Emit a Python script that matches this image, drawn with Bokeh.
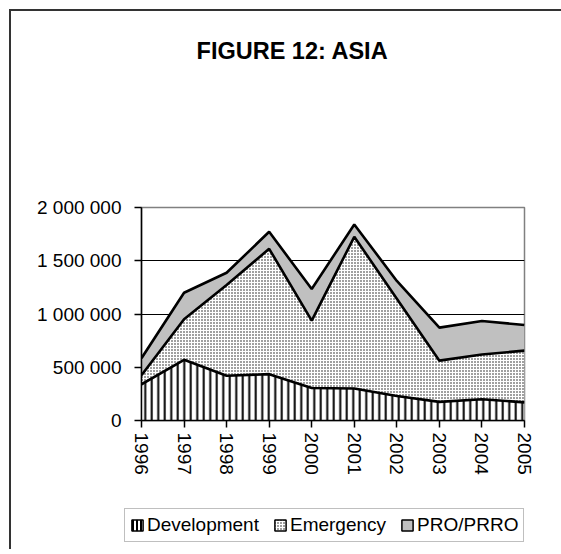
import numpy as np
from bokeh.plotting import figure
from bokeh.layouts import column
from bokeh.models import (FixedTicker, Legend, LegendItem, ColumnDataSource, Range1d, Label)
from bokeh.embed import file_html
from bokeh.resources import INLINE

years = [1996, 1997, 1998, 1999, 2000, 2001, 2002, 2003, 2004, 2005]
development = [340000, 570000, 420000, 435000, 305000, 300000, 230000, 175000, 200000, 170000]
emergency = [85000, 380000, 852000, 1177000, 632000, 1425000, 914000, 387000, 419000, 486000]
pro_prro = [160000, 250000, 115000, 160000, 297000, 116000, 166000, 310000, 315000, 241000]

y_ticks = [0, 500000, 1000000, 1500000, 2000000]
y_tick_labels = ["0", "500 000", "1 000 000", "1 500 000", "2 000 000"]
x_tick_labels = [str(y) for y in years]
title_text = "FIGURE 12: ASIA"
series_names = ["Development", "Emergency", "PRO/PRRO"]

FONT = "Liberation Sans"
LABEL_SIZE = "19px"
W = 550

DEV_STYLE = dict(fill_color="white", hatch_pattern="vertical_line", hatch_color="black")
EMG_STYLE = dict(fill_color="white", hatch_pattern="dot", hatch_scale=3, hatch_weight=1.8,
                 hatch_color="#111111")
PRO_STYLE = dict(fill_color="#c0c0c0")

dev = np.array(development, dtype=float)
emg = dev + np.array(emergency, dtype=float)
tot = emg + np.array(pro_prro, dtype=float)

src = ColumnDataSource(dict(x=years, zero=[0] * len(years), dev=dev, emg=emg, tot=tot))


def no_frame_align(f):
    if "frame_align" in f.properties():
        f.frame_align = False


def blank_fig(h):
    f = figure(width=W, height=h, output_backend="svg", toolbar_location=None,
               x_axis_type=None, y_axis_type=None,
               x_range=Range1d(0, 1), y_range=Range1d(0, 1),
               min_border_left=0, min_border_right=0, min_border_top=0, min_border_bottom=0)
    f.xgrid.visible = False
    f.ygrid.visible = False
    f.outline_line_color = None
    f.background_fill_color = "white"
    f.border_fill_color = "white"
    no_frame_align(f)
    return f


# ---- title strip ----
ft = blank_fig(160)
ft.add_layout(Label(x=281, y=121, x_units="screen", y_units="screen", text=title_text,
                    text_align="center", text_baseline="alphabetic",
                    text_font=FONT, text_font_size="23.5px", text_font_style="bold",
                    text_color="black"))

# ---- main chart ----
p = figure(width=W, height=306, output_backend="svg", toolbar_location=None,
           x_range=Range1d(1996, 2005), y_range=Range1d(0, 2000000),
           min_border_left=130, min_border_right=37, min_border_top=36, min_border_bottom=56)
no_frame_align(p)
p.background_fill_color = "white"
p.border_fill_color = "white"
p.outline_line_color = "#808080"
p.outline_line_width = 1.5

p.varea(x="x", y1="tot", y2="emg", source=src, **PRO_STYLE)
p.varea(x="x", y1="emg", y2="dev", source=src, **EMG_STYLE)
p.varea(x="x", y1="dev", y2="zero", source=src, hatch_scale=6.5, hatch_weight=2, **DEV_STYLE)
p.line(x="x", y="dev", source=src, line_color="black", line_width=2.6)
p.line(x="x", y="emg", source=src, line_color="black", line_width=2.6)
p.line(x="x", y="tot", source=src, line_color="black", line_width=2.6)

p.xgrid.visible = False
p.ygrid.ticker = FixedTicker(ticks=y_ticks[1:-1])
p.ygrid.grid_line_color = "black"
p.ygrid.grid_line_width = 1

p.yaxis.ticker = FixedTicker(ticks=y_ticks)
p.yaxis.major_label_overrides = {t: l for t, l in zip(y_ticks, y_tick_labels)}
p.xaxis.ticker = FixedTicker(ticks=years)
p.xaxis.major_label_overrides = {y: l for y, l in zip(years, x_tick_labels)}
p.xaxis.major_label_orientation = -np.pi / 2
for ax in (p.xaxis[0], p.yaxis[0]):
    ax.axis_line_color = "black"
    ax.axis_line_width = 1.5
    ax.major_tick_line_color = "black"
    ax.major_tick_line_width = 1.5
    ax.major_tick_out = 7
    ax.major_tick_in = 0
    ax.minor_tick_line_color = None
    ax.major_label_text_font = FONT
    ax.major_label_text_font_size = LABEL_SIZE
    ax.major_label_text_color = "black"
p.yaxis.major_label_standoff = 13
p.xaxis.major_label_standoff = 5

# ---- legend strip ----
fl = blank_fig(72)
nan_src = dict(left=[np.nan], right=[np.nan], top=[np.nan], bottom=[np.nan])
r1 = fl.quad(source=ColumnDataSource(nan_src), left="left", right="right", top="top", bottom="bottom",
             line_color="black", line_width=1.5, hatch_scale=4, hatch_weight=2, **DEV_STYLE)
r2 = fl.quad(source=ColumnDataSource(nan_src), left="left", right="right", top="top", bottom="bottom",
             line_color="black", line_width=1.5, **EMG_STYLE)
r3 = fl.quad(source=ColumnDataSource(nan_src), left="left", right="right", top="top", bottom="bottom",
             line_color="black", line_width=1.5, **PRO_STYLE)
legend = Legend(items=[LegendItem(label=series_names[0], renderers=[r1]),
                       LegendItem(label=series_names[1], renderers=[r2]),
                       LegendItem(label=series_names[2], renderers=[r3])],
                orientation="horizontal", location=(113, 7),
                glyph_width=14, glyph_height=14, label_standoff=3, spacing=14,
                padding=5, margin=0,
                label_text_font=FONT, label_text_font_size=LABEL_SIZE, label_text_color="black",
                border_line_color="#808080", border_line_width=1.5,
                background_fill_color="white", background_fill_alpha=1)
fl.add_layout(legend, "center")

layout = column(ft, p, fl, spacing=0,
                styles={"border-top": "2px solid #333333", "border-left": "2px solid #333333",
                        "margin-left": "9px", "margin-top": "9px"})

open("out.html", "w").write(file_html(layout, INLINE))
